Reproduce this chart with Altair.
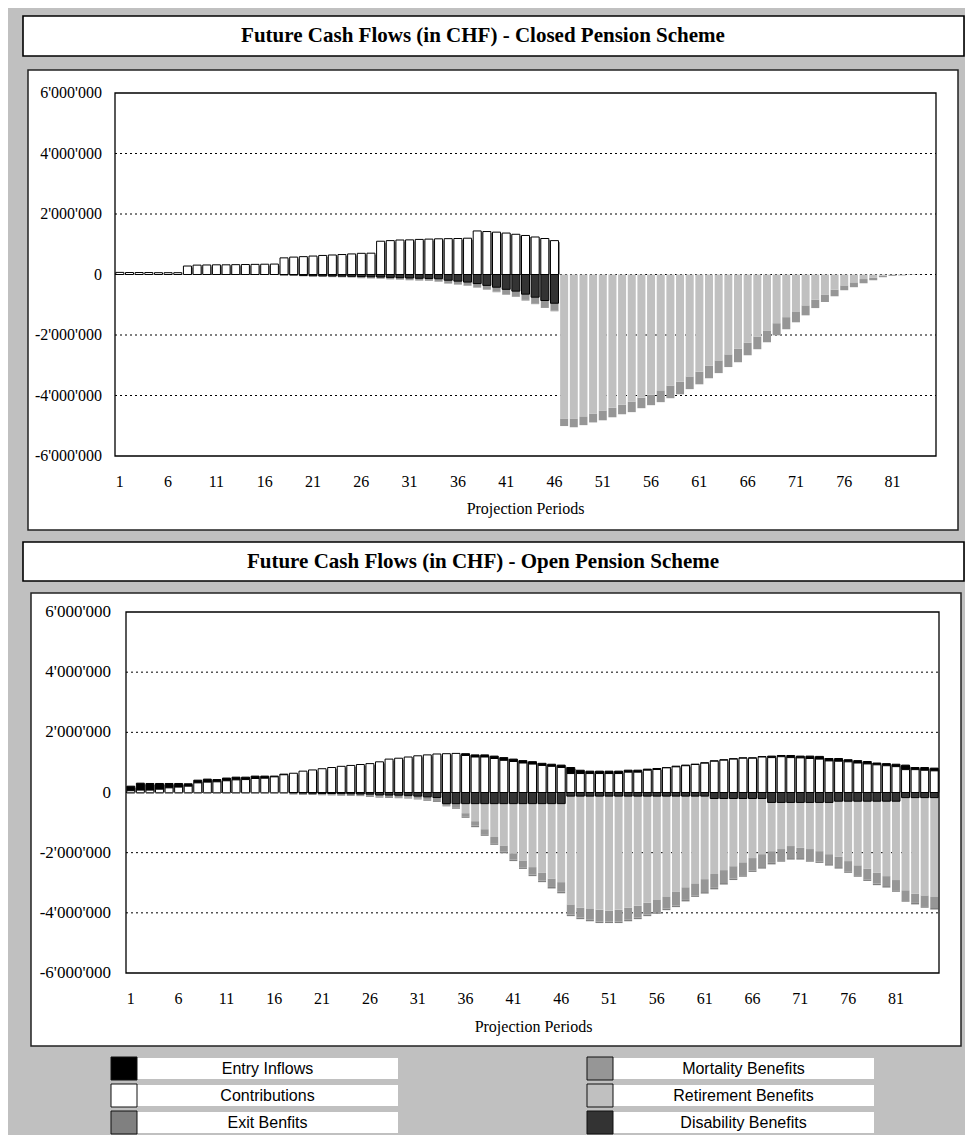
import altair as alt
import pandas as pd

# ---------------------------------------------------------------- data
# all cash-flow values in thousands of CHF (magnitudes); outflows drawn negative
PERIODS = list(range(1, 86))
X_TICKS = list(range(1, 86, 5))
Y_TICKS = [-6000000, -4000000, -2000000, 0, 2000000, 4000000, 6000000]
Y_TICK_LABELS = ["-6'000'000", "-4'000'000", "-2'000'000", "0",
                 "2'000'000", "4'000'000", "6'000'000"]
GRID_LEVELS = [-4000000, -2000000, 0, 2000000, 4000000]

TITLE_CLOSED = "Future Cash Flows (in CHF) - Closed Pension Scheme"
TITLE_OPEN = "Future Cash Flows (in CHF) - Open Pension Scheme"
X_TITLE = "Projection Periods"

SERIES = ["Entry Inflows", "Contributions", "Exit Benfits",
          "Mortality Benefits", "Retirement Benefits", "Disability Benefits"]
LEGEND_COLUMNS = [["Entry Inflows", "Contributions", "Exit Benfits"],
                  ["Mortality Benefits", "Retirement Benefits", "Disability Benefits"]]

closed_entry = [
    0, 0, 0, 0, 0, 0, 0, 0, 0, 0,
    0, 0, 0, 0, 0, 0, 0, 0, 0, 0,
    0, 0, 0, 0, 0, 0, 0, 0, 0, 0,
    0, 0, 0, 0, 0, 0, 0, 0, 0, 0,
    0, 0, 0, 0, 0, 0, 0, 0, 0, 0,
    0, 0, 0, 0, 0, 0, 0, 0, 0, 0,
    0, 0, 0, 0, 0, 0, 0, 0, 0, 0,
    0, 0, 0, 0, 0, 0, 0, 0, 0, 0,
    0, 0, 0, 0, 0]
closed_contrib = [
    70, 65, 65, 65, 60, 60, 60, 280, 310, 315,
    320, 320, 325, 330, 335, 340, 345, 550, 575, 590,
    610, 630, 645, 660, 680, 700, 705, 1100, 1120, 1140,
    1145, 1160, 1170, 1180, 1185, 1190, 1200, 1440, 1420, 1400,
    1370, 1330, 1290, 1240, 1190, 1120, 0, 0, 0, 0,
    0, 0, 0, 0, 0, 0, 0, 0, 0, 0,
    0, 0, 0, 0, 0, 0, 0, 0, 0, 0,
    0, 0, 0, 0, 0, 0, 0, 0, 0, 0,
    0, 0, 0, 0, 0]
closed_exit = [
    0, 0, 0, 0, 0, 0, 0, 0, 0, 0,
    0, 0, 0, 0, 0, 0, 0, 5, 5, 5,
    5, 5, 5, 5, 5, 10, 10, 10, 10, 10,
    10, 10, 10, 15, 15, 15, 15, 15, 15, 20,
    20, 20, 20, 25, 25, 25, 0, 0, 0, 0,
    0, 0, 0, 0, 0, 0, 0, 0, 0, 0,
    0, 0, 0, 0, 0, 0, 0, 0, 0, 0,
    0, 0, 0, 0, 0, 0, 0, 0, 0, 0,
    0, 0, 0, 0, 0]
closed_mort = [
    0, 0, 0, 0, 0, 0, 0, 0, 0, 0,
    0, 0, 0, 0, 0, 0, 0, 20, 22, 25,
    28, 30, 32, 35, 38, 42, 45, 50, 55, 60,
    65, 70, 75, 85, 95, 100, 110, 120, 130, 145,
    155, 170, 190, 205, 220, 240, 250, 290, 290, 290,
    320, 320, 320, 350, 350, 350, 390, 420, 420, 420,
    420, 420, 420, 420, 450, 420, 420, 390, 400, 400,
    360, 330, 280, 250, 220, 160, 160, 140, 90, 50,
    30, 20, 10, 5, 0]
closed_retire = [
    0, 0, 0, 0, 0, 0, 0, 0, 0, 0,
    0, 0, 0, 0, 0, 0, 0, 0, 0, 0,
    0, 0, 0, 0, 0, 0, 0, 0, 0, 0,
    0, 0, 0, 0, 0, 0, 0, 0, 0, 0,
    0, 0, 0, 0, 0, 0, 4760, 4760, 4690, 4600,
    4500, 4400, 4300, 4200, 4070, 3970, 3830, 3670, 3540, 3370,
    3210, 3010, 2840, 2640, 2450, 2250, 2050, 1850, 1610, 1410,
    1220, 1020, 830, 660, 500, 360, 260, 150, 100, 40,
    20, 10, 5, 0, 0]
closed_disab = [
    0, 0, 0, 0, 0, 0, 0, 0, 0, 0,
    0, 0, 0, 0, 0, 0, 0, 10, 15, 30,
    40, 45, 50, 55, 60, 70, 75, 85, 95, 105,
    115, 125, 130, 140, 190, 220, 250, 300, 360, 420,
    490, 550, 650, 750, 860, 950, 0, 0, 0, 0,
    0, 0, 0, 0, 0, 0, 0, 0, 0, 0,
    0, 0, 0, 0, 0, 0, 0, 0, 0, 0,
    0, 0, 0, 0, 0, 0, 0, 0, 0, 0,
    0, 0, 0, 0, 0]

open_entry = [
    150, 230, 220, 190, 145, 120, 80, 90, 100, 75,
    90, 90, 80, 80, 70, 25, 20, 0, 0, 0,
    0, 0, 0, 0, 0, 0, 0, 0, 0, 0,
    0, 0, 0, 0, 0, 60, 70, 70, 80, 90,
    80, 80, 80, 70, 70, 80, 200, 110, 80, 80,
    80, 80, 66, 66, 34, 34, 11, 22, 20, 11,
    11, 11, 11, 11, 11, 11, 11, 50, 40, 70,
    60, 80, 90, 80, 90, 70, 80, 80, 60, 70,
    80, 150, 70, 90, 90]
open_contrib = [
    60, 80, 80, 110, 155, 180, 210, 320, 345, 355,
    390, 420, 430, 465, 475, 520, 590, 640, 710, 750,
    790, 830, 870, 900, 930, 960, 1020, 1110, 1140, 1180,
    1220, 1250, 1280, 1290, 1300, 1230, 1180, 1180, 1130, 1070,
    1030, 980, 945, 900, 870, 830, 630, 630, 630, 630,
    630, 630, 676, 676, 742, 764, 820, 853, 890, 931,
    975, 1040, 1075, 1110, 1140, 1140, 1180, 1160, 1190, 1160,
    1150, 1130, 1110, 1050, 1040, 1020, 980, 950, 920, 890,
    860, 760, 760, 740, 720]
open_exit = [
    30, 30, 30, 30, 30, 30, 30, 30, 30, 30,
    30, 30, 30, 30, 30, 30, 30, 30, 30, 30,
    30, 30, 30, 30, 30, 30, 30, 30, 30, 30,
    30, 30, 30, 30, 30, 50, 50, 50, 50, 50,
    50, 50, 50, 50, 50, 50, 50, 50, 50, 50,
    50, 50, 50, 50, 50, 50, 50, 50, 50, 50,
    50, 50, 50, 50, 50, 50, 50, 50, 50, 50,
    50, 50, 50, 50, 50, 50, 50, 50, 50, 50,
    50, 50, 50, 50, 50]
open_mort = [
    20, 20, 20, 20, 20, 20, 20, 20, 20, 20,
    20, 20, 20, 20, 20, 20, 20, 20, 25, 25,
    30, 30, 35, 35, 40, 60, 60, 65, 70, 75,
    80, 100, 120, 60, 140, 105, 150, 170, 210, 210,
    210, 230, 250, 270, 280, 320, 340, 330, 360, 390,
    360, 390, 400, 400, 400, 410, 390, 470, 420, 400,
    430, 460, 430, 410, 430, 410, 430, 390, 370, 400,
    340, 370, 340, 330, 340, 340, 330, 360, 360, 330,
    340, 330, 310, 360, 370]
open_retire = [
    0, 0, 0, 0, 0, 0, 0, 0, 0, 0,
    0, 0, 0, 0, 0, 0, 0, 0, 0, 0,
    0, 0, 0, 0, 0, 0, 0, 0, 0, 0,
    0, 0, 0, 0, 0, 317, 583, 850, 1110, 1390,
    1650, 1890, 2110, 2290, 2490, 2610, 3600, 3710, 3750, 3780,
    3810, 3780, 3710, 3640, 3540, 3450, 3350, 3170, 3030, 2900,
    2760, 2510, 2380, 2250, 2120, 1980, 1850, 1620, 1550, 1450,
    1510, 1550, 1620, 1720, 1850, 1990, 2130, 2240, 2380, 2490,
    2620, 3080, 3190, 3250, 3300]
open_disab = [
    0, 0, 0, 0, 0, 0, 0, 0, 0, 0,
    0, 0, 0, 0, 0, 0, 0, 15, 20, 25,
    30, 35, 40, 45, 50, 55, 80, 85, 90, 95,
    120, 145, 165, 370, 370, 370, 370, 370, 370, 370,
    370, 370, 370, 370, 370, 370, 120, 120, 120, 120,
    120, 120, 120, 120, 120, 120, 120, 120, 120, 120,
    120, 200, 200, 200, 200, 200, 200, 330, 330, 330,
    330, 330, 330, 330, 290, 290, 290, 290, 290, 290,
    290, 170, 170, 170, 170]

# ---------------------------------------------------------------- styling
SERIF = "Liberation Serif"
SANS = "Liberation Sans"
FILLS = ["#000000", "#ffffff", "#808080", "#969696", "#c0c0c0", "#333333"]
STROKES = ["#000000", "#000000", "transparent", "transparent", "transparent", "#000000"]
STACK_ORDER = {"Contributions": 1, "Entry Inflows": 2, "Disability Benefits": 3,
               "Retirement Benefits": 4, "Mortality Benefits": 5, "Exit Benfits": 6}
OUTFLOWS = {"Exit Benfits", "Mortality Benefits", "Retirement Benefits", "Disability Benefits"}
BG = "#c0c0c0"


def to_long(series_map):
    rows = []
    for name, arr in series_map.items():
        assert len(arr) == len(PERIODS), name
        sign = -1 if name in OUTFLOWS else 1
        for p, v in zip(PERIODS, arr):
            if v:
                rows.append(dict(period=p, series=name, value=sign * v * 1000,
                                 ord=STACK_ORDER[name]))
    return pd.DataFrame(rows)


def positive_totals(contrib, entry):
    df = pd.DataFrame({"period": PERIODS,
                       "ptot": [(c + e) * 1000 for c, e in zip(contrib, entry)]})
    return df[df.ptot > 0]


closed_df = to_long({"Entry Inflows": closed_entry, "Contributions": closed_contrib,
                     "Exit Benfits": closed_exit, "Mortality Benefits": closed_mort,
                     "Retirement Benefits": closed_retire, "Disability Benefits": closed_disab})
open_df = to_long({"Entry Inflows": open_entry, "Contributions": open_contrib,
                   "Exit Benfits": open_exit, "Mortality Benefits": open_mort,
                   "Retirement Benefits": open_retire, "Disability Benefits": open_disab})
closed_pos = positive_totals(closed_contrib, closed_entry)
open_pos = positive_totals(open_contrib, open_entry)

ONE = pd.DataFrame({"k": [0]})
Y_SCALE = alt.Scale(domain=[-6000000, 6000000], nice=False, zero=False)
Y_LABELS_DF = pd.DataFrame({"v": Y_TICKS, "lab": Y_TICK_LABELS})
X_LABELS_DF = pd.DataFrame({"period": X_TICKS, "lab": [str(t) for t in X_TICKS]})


def deco_rect(x, x2, y, y2, **kw):
    return alt.Chart(ONE).mark_rect(**kw).encode(
        x=alt.value(x), x2=alt.value(x2), y=alt.value(y), y2=alt.value(y2))


def deco_text(x, y, text, **kw):
    return alt.Chart(ONE).mark_text(**kw).encode(
        x=alt.value(x), y=alt.value(y), text=alt.value(text))


# ---------------------------------------------------------------- backdrop panel
# origin of this panel is at page (115, 8)
OX, OY = 115, 8


def zx(px):
    return px - OX


def zy(py):
    return py - OY


backdrop_layers = [
    deco_rect(zx(8), zx(965), zy(8), zy(1134), fill=BG),
    deco_rect(zx(23), zx(964), zy(16), zy(56), fill="white", stroke="black", strokeWidth=1.6),
    deco_text(zx(483), zy(36), TITLE_CLOSED, font=SERIF, fontSize=21, fontWeight="bold",
              align="center", baseline="middle", color="black"),
    deco_rect(zx(28), zx(958), zy(70), zy(530), fill="white", stroke="#222222", strokeWidth=1.5),
    deco_rect(zx(23), zx(964), zy(542), zy(581), fill="white", stroke="black", strokeWidth=1.6),
    deco_text(zx(483), zy(561.5), TITLE_OPEN, font=SERIF, fontSize=21, fontWeight="bold",
              align="center", baseline="middle", color="black"),
    deco_rect(zx(31), zx(961), zy(593), zy(1046), fill="white", stroke="#222222", strokeWidth=1.5),
]

leg_rows = []
for ci, col in enumerate(LEGEND_COLUMNS):
    for ri, name in enumerate(col):
        cx = zx(115) + ci * 476
        ry = zy(1058) + ri * 27
        leg_rows.append(dict(series=name, sx=cx - 4, sx2=cx + 22, sy=ry - 1, sy2=ry + 22,
                             bx=cx + 22, bx2=cx + 283, by=ry, by2=ry + 21,
                             tx=cx + 152.5, ty=ry + 10.5))
leg = pd.DataFrame(leg_rows)

backdrop_layers += [
    alt.Chart(leg).mark_rect(fill="white").encode(
        x=alt.X("bx:Q", scale=None, axis=None), x2="bx2:Q",
        y=alt.Y("by:Q", scale=None, axis=None), y2="by2:Q"),
    alt.Chart(leg).mark_rect(stroke="#111111", strokeWidth=1).encode(
        x=alt.X("sx:Q", scale=None, axis=None), x2="sx2:Q",
        y=alt.Y("sy:Q", scale=None, axis=None), y2="sy2:Q",
        fill=alt.Fill("series:N", scale=alt.Scale(domain=SERIES, range=FILLS), legend=None)),
    alt.Chart(leg).mark_text(font=SANS, fontSize=16, align="center", baseline="middle",
                             color="black").encode(
        x=alt.X("tx:Q", scale=None, axis=None), y=alt.Y("ty:Q", scale=None, axis=None),
        text="series:N"),
]
backdrop = alt.layer(*backdrop_layers).properties(width=824, height=1)


# ---------------------------------------------------------------- chart panels
def panel(df, pos, W, H, x_scale, plot_x0, y_pad, y_font, x_title_dy, x_title_x):
    layers = [
        # dotted horizontal gridlines
        alt.Chart(pd.DataFrame({"g": GRID_LEVELS})).mark_rule(
            color="black", strokeDash=[2, 3], strokeWidth=1).encode(
            y=alt.Y("g:Q", scale=Y_SCALE, axis=None),
            x=alt.value(plot_x0), x2=alt.value(W)),
        # soft drop shadow behind the inflow bars
        alt.Chart(pos).mark_bar(color="#8a8a8a", xOffset=1.5, yOffset=1.5,
                                y2Offset=1.5).encode(
            x=alt.X("period:O", scale=x_scale, axis=None),
            y=alt.Y("ptot:Q", scale=Y_SCALE, axis=None, stack=None)),
        # stacked cash-flow bars
        alt.Chart(df).mark_bar(strokeWidth=1).encode(
            x=alt.X("period:O", scale=x_scale, axis=None),
            y=alt.Y("value:Q", stack="zero", scale=Y_SCALE, axis=None),
            fill=alt.Fill("series:N", scale=alt.Scale(domain=SERIES, range=FILLS), legend=None),
            stroke=alt.Stroke("series:N", scale=alt.Scale(domain=SERIES, range=STROKES),
                              legend=None),
            order=alt.Order("ord:Q", sort="ascending")),
        # plot-area border
        deco_rect(plot_x0, W, 0, H, filled=False, stroke="black", strokeWidth=1.3),
        # y tick labels (placed by the y scale)
        alt.Chart(Y_LABELS_DF).mark_text(font=SERIF, fontSize=y_font, align="right",
                                         baseline="middle", color="black").encode(
            y=alt.Y("v:Q", scale=Y_SCALE, axis=None), x=alt.value(-y_pad), text="lab:N"),
        # x tick labels (placed by the band scale)
        alt.Chart(X_LABELS_DF).mark_text(font=SERIF, fontSize=16, align="center",
                                         baseline="middle", color="black").encode(
            x=alt.X("period:O", scale=x_scale, axis=None), y=alt.value(H + 26), text="lab:N"),
        deco_text(x_title_x, H + x_title_dy, X_TITLE, font=SERIF, fontSize=16,
                  align="center", baseline="middle", color="black"),
    ]
    return alt.layer(*layers).properties(width=W, height=H)


# top panel (closed): plot area at page (115, 93), 821 x 363
top = panel(closed_df, closed_pos, 821, 363,
            alt.Scale(domain=PERIODS, paddingInner=0.17), 0,
            y_pad=13, y_font=16, x_title_dy=53, x_title_x=410.5)

# bottom panel (open): view at page (115, 612), 824 x 361, bars from x=126
bottom = panel(open_df, open_pos, 824, 361,
               alt.Scale(domain=PERIODS, paddingInner=0.17, paddingOuter=0.66, align=0.937), 11,
               y_pad=4, y_font=17, x_title_dy=54, x_title_x=418.5)

charts = alt.vconcat(top, bottom, spacing=156, bounds="flush")
chart = alt.vconcat(backdrop, charts, spacing=84, bounds="flush").properties(
    background=BG, padding=0).configure_view(strokeWidth=0)

chart.save("out.html", embed_options={"renderer": "svg", "actions": False})
